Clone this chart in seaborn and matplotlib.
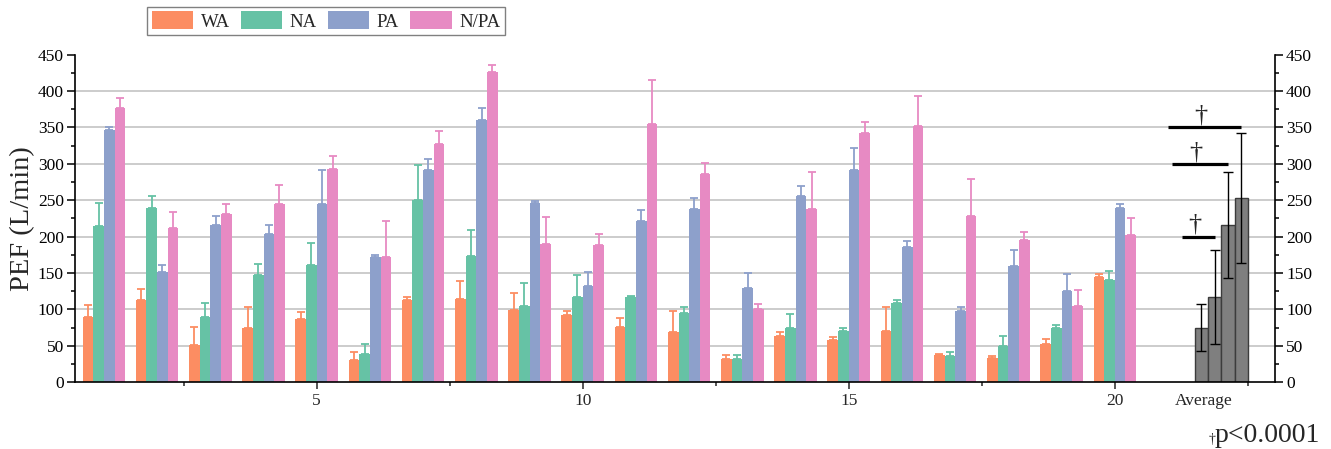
import numpy as np
import pandas as pd
import matplotlib
matplotlib.use("Agg")
import matplotlib.pyplot as plt
from matplotlib.container import BarContainer
from matplotlib.ticker import MultipleLocator, FixedLocator
import seaborn as sns

# Peak expiratory flow per subject under four conditions (mean and SD)
subjects = list(range(1, 21))
conditions = ["WA", "NA", "PA", "N/PA"]

wa = [90, 113, 51, 75, 87, 31, 113, 114, 99, 92, 76, 69, 32, 64, 58, 71, 37, 34, 52, 145]
wa_err = [16, 15, 25, 28, 9, 11, 4, 25, 24, 6, 12, 29, 6, 4.5, 4.6, 32, 2, 2.5, 7, 3.7]
na = [215, 239, 89, 148, 161, 39, 251, 173, 105, 117, 117, 95, 32, 75, 70, 109, 36, 50, 74, 140]
na_err = [31, 17, 20, 15, 30, 13, 47, 36, 32, 30, 2, 9, 6, 19, 4.6, 4.6, 6, 13, 4.6, 13]
pa = [347, 151, 216, 203, 245, 172, 292, 360, 246, 132, 222, 238, 130, 256, 291, 186, 98, 160, 125, 239]
pa_err = [4, 10, 12, 13, 47, 3, 15, 17, 3, 20, 15, 15, 20, 13, 31, 8, 5.5, 22, 24, 6]
npa = [376, 212, 231, 245, 293, 172, 327, 426, 190, 189, 355, 286, 100, 238, 342, 352, 228, 196, 105, 202]
npa_err = [15, 22, 14, 26, 18, 49, 18, 10, 37, 14, 60, 15, 7, 51, 16, 41, 51, 10, 22, 24]

# Group averages with SD
avg_values = [75, 117, 216, 253]
avg_sd = [32, 65, 73, 89]
avg_position = 22

# Significance brackets: (y level, compared condition index, bracket length)
brackets = [(350, 3, 1.37), (300, 2, 1.05), (200, 1, 0.62)]

colors = ["#fc8d62", "#66c2a5", "#8da0cb", "#e78ac3"]

sns.set_style("ticks")
plt.rcParams["font.family"] = ["Liberation Serif", "DejaVu Serif"]

series = [wa, na, pa, npa]
errors = [wa_err, na_err, pa_err, npa_err]
df = pd.DataFrame({
    "subject": np.tile(subjects, 4),
    "condition": np.repeat(conditions, len(subjects)),
    "pef": np.concatenate(series),
})
df_avg = pd.DataFrame({
    "subject": [avg_position] * 4,
    "condition": conditions,
    "pef": avg_values,
})


def bar_containers(axis):
    return [c for c in axis.containers if isinstance(c, BarContainer)]


fig = plt.figure(figsize=(13.31, 4.49), dpi=100)
ax = fig.add_axes([0.05635, 0.1486, 0.9579 - 0.05635, 0.8784 - 0.1486])

# horizontal grid lines
ax.hlines(np.arange(50, 401, 50), 0, 1, transform=ax.get_yaxis_transform(),
          color="#c8c8c8", lw=1.3, zorder=0)

sns.barplot(data=df, x="subject", y="pef", hue="condition", hue_order=conditions,
            palette=colors, native_scale=True, width=0.8, saturation=1,
            linewidth=0, errorbar=None, legend=False, ax=ax, zorder=2)
cond_containers = bar_containers(ax)

for k, cont in enumerate(cond_containers):
    xs, ys, es = [], [], []
    for bar in cont:
        cx = bar.get_x() + bar.get_width() / 2
        idx = int(round(cx)) - 1
        xs.append(cx)
        ys.append(bar.get_height())
        es.append(errors[k][idx])
    ax.errorbar(xs, ys, yerr=[np.zeros(len(es)), es], fmt="none",
                ecolor=colors[k], elinewidth=1.3, capsize=2.6, capthick=1.3, zorder=3)

sns.barplot(data=df_avg, x="subject", y="pef", hue="condition", hue_order=conditions,
            palette=["#7f7f7f"] * 4, native_scale=True, width=1.0, saturation=1,
            edgecolor="#3c3c3c", linewidth=1.0, errorbar=None, legend=False,
            ax=ax, zorder=2)
avg_containers = bar_containers(ax)[len(cond_containers):]
avg_centers = []
for k, cont in enumerate(avg_containers):
    bar = cont.patches[0]
    cx = bar.get_x() + bar.get_width() / 2
    avg_centers.append(cx)
    ax.errorbar([cx], [bar.get_height()], yerr=[[avg_sd[k]], [avg_sd[k]]], fmt="none",
                ecolor="black", elinewidth=1.0, capsize=3.5, capthick=1.0, zorder=3)

# significance markers
for level, target, length in brackets:
    right = avg_centers[target]
    left = right - length
    ax.plot([left, right], [level, level], color="black", lw=2.3, zorder=4,
            solid_capstyle="butt")
    ax.text((left + right) / 2 - 0.07, level + 1, "\u2020", ha="center", va="bottom",
            fontsize=19, zorder=4)

# axes, ticks and spines
ax.set_xlim(0.457, 23.01)
ax.set_ylim(0, 450)
ax.set_xlabel("")
ax.set_ylabel("PEF (L/min)", fontsize=20.5)
ax.yaxis.set_label_coords(-0.033, 0.5)

ax.yaxis.set_major_locator(MultipleLocator(50))
ax.yaxis.set_minor_locator(MultipleLocator(25))
ax.tick_params(axis="y", which="both", left=True, right=True, labelleft=True,
               labelright=True, direction="out", labelsize=12.5, width=1.1,
               colors="black", pad=2)
ax.tick_params(axis="y", which="major", length=6)
ax.tick_params(axis="y", which="minor", length=3)

ax.xaxis.set_major_locator(FixedLocator([5, 10, 15, 20, 21.68]))
ax.set_xticklabels(["5", "10", "15", "20", "Average"])
ax.xaxis.set_minor_locator(FixedLocator([2.5, 7.5, 12.5, 17.5, 22.5]))
ax.tick_params(axis="x", which="major", length=5, width=1.1, labelsize=12.5, pad=3)
ax.tick_params(axis="x", which="minor", length=3, width=1.1)
ax.xaxis.get_major_ticks()[-1].tick1line.set_visible(False)

for side in ["left", "right", "bottom"]:
    ax.spines[side].set_visible(True)
    ax.spines[side].set_color("black")
    ax.spines[side].set_linewidth(1.2)
ax.spines["top"].set_visible(False)

# legend above the plot
handles = [cont.patches[0] for cont in cond_containers]
fig.legend(handles, conditions, loc="center", bbox_to_anchor=(0.245, 0.953), ncol=4,
           fontsize=13.5, handlelength=2.2, handleheight=1.1, handletextpad=0.4,
           columnspacing=0.6, borderpad=0.25, frameon=True, fancybox=False,
           edgecolor="#808080", framealpha=1)

# significance note
fig.text(1209 / 1331, 1 - 443 / 449, "\u2020", fontsize=10, va="baseline", ha="left")
fig.text(1215 / 1331, 1 - 441.5 / 449, "p<0.0001", fontsize=20, va="baseline", ha="left")

fig.savefig("out.png", dpi=100)
